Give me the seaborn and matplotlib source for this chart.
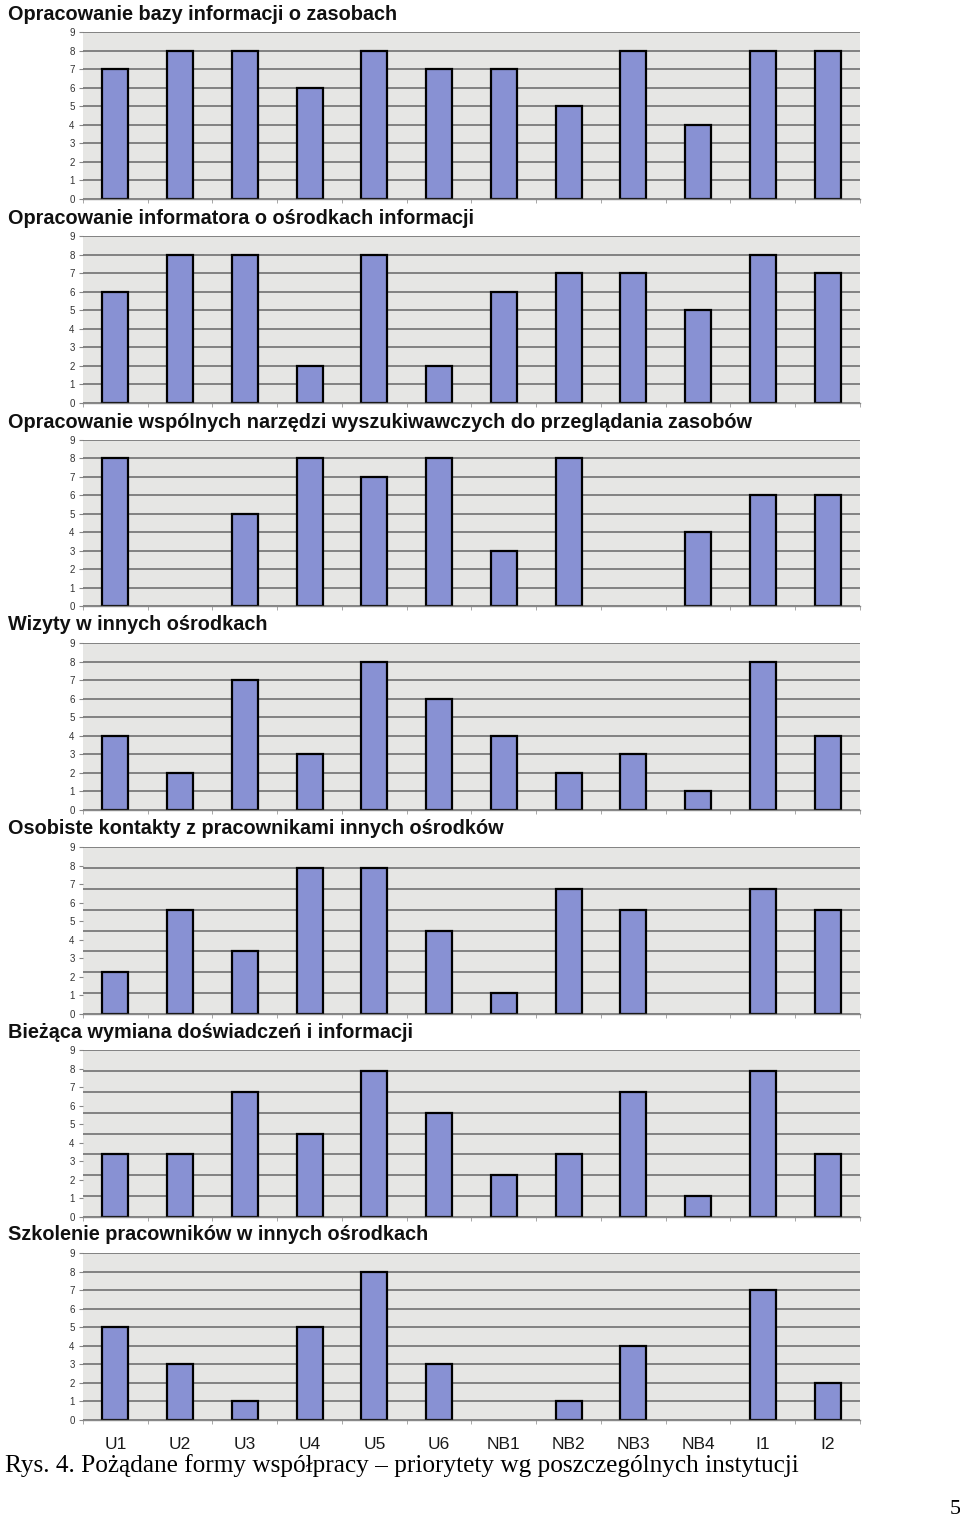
import numpy as np
import pandas as pd
import matplotlib
matplotlib.use("Agg")
import matplotlib.pyplot as plt
import seaborn as sns

# ---------------- data ----------------
categories = ["U1", "U2", "U3", "U4", "U5", "U6", "NB1", "NB2", "NB3", "NB4", "I1", "I2"]

titles = [
    "Opracowanie bazy informacji o zasobach",
    "Opracowanie informatora o ośrodkach informacji",
    "Opracowanie wspólnych narzędzi wyszukiwawczych do przeglądania zasobów",
    "Wizyty w innych ośrodkach",
    "Osobiste kontakty z pracownikami innych ośrodków",
    "Bieżąca wymiana doświadczeń i informacji",
    "Szkolenie pracowników w innych ośrodkach",
]

baza = [7, 8, 8, 6, 8, 7, 7, 5, 8, 4, 8, 8]
informator = [6, 8, 8, 2, 8, 2, 6, 7, 7, 5, 8, 7]
narzedzia = [8, 0, 5, 8, 7, 8, 3, 8, 0, 4, 6, 6]
wizyty = [4, 2, 7, 3, 8, 6, 4, 2, 3, 1, 8, 4]
kontakty = [2, 5, 3, 7, 7, 4, 1, 6, 5, 0, 6, 5]      # drawn on a 0-8 grid
wymiana = [3, 3, 6, 4, 7, 5, 2, 3, 6, 1, 7, 3]       # drawn on a 0-8 grid
szkolenie = [5, 3, 1, 5, 8, 3, 0, 1, 4, 0, 7, 2]

series = [baza, informator, narzedzia, wizyty, kontakty, wymiana, szkolenie]
grid_max = [9, 9, 9, 9, 8, 8, 9]          # number of gridline intervals per panel
ytick_labels = [str(i) for i in range(10)]

caption = "Rys. 4. Pożądane formy współpracy – priorytety wg poszczególnych instytucji"
page_no = "5"

# ---------------- style ----------------
sns.set_style("white")
plt.rcParams["font.family"] = ["Liberation Sans", "DejaVu Sans"]

W, H = 960, 1519
fig = plt.figure(figsize=(W / 100, H / 100), dpi=100)
fig.patch.set_facecolor("white")

bar_color = "#8891D3"
bg_color = "#E6E6E4"
grid_color = "#7A7A7A"

tops = [32, 236, 440, 643, 847, 1050, 1253]
bots = [199, 403, 606, 810, 1014, 1217, 1420]
left_px, right_px = 83, 860

for i, (vals, title) in enumerate(zip(series, titles)):
    t, b = tops[i], bots[i]
    ax = fig.add_axes([left_px / W, 1 - b / H, (right_px - left_px) / W, (b - t) / H])
    df = pd.DataFrame({"kat": categories, "val": vals})
    sns.barplot(data=df, x="kat", y="val", order=categories, color=bar_color,
                edgecolor="black", linewidth=1.6, width=0.4, saturation=1, ax=ax)
    for p in ax.patches:
        if p.get_height() == 0:
            p.set_visible(False)
    ax.set_facecolor(bg_color)
    gm = grid_max[i]
    ax.set_ylim(0, gm)
    ax.set_xlim(-0.5, len(categories) - 0.5)
    ax.grid(False)
    # gridlines at integer steps of the panel's grid
    ax.yaxis.remove_overlapping_locs = False
    ax.set_yticks(np.arange(gm + 1), minor=True)
    ax.grid(which="minor", axis="y", color=grid_color, linewidth=1.3)
    ax.set_axisbelow(True)
    # labels 0..9 spread over the full height
    ax.set_yticks(np.linspace(0, gm, 10))
    ax.set_yticklabels(ytick_labels)
    ax.tick_params(axis="y", which="major", labelsize=7, labelcolor="#333333",
                   length=3, color="#888888", pad=3, left=True)
    ax.tick_params(axis="y", which="minor", length=0)
    # x axis
    ax.set_xlabel("")
    ax.set_ylabel("")
    ax.set_xticks(np.arange(-0.5, len(categories) + 0.5, 1.0), minor=True)
    ax.tick_params(axis="x", which="minor", length=3, color="#999999", bottom=True)
    if i == len(series) - 1:
        ax.tick_params(axis="x", which="major", length=0, labelsize=12.5,
                       labelcolor="#1a1a1a", pad=12)
    else:
        ax.tick_params(axis="x", which="major", length=0, labelbottom=False)
    for s in ["top", "right", "left"]:
        ax.spines[s].set_visible(False)
    ax.spines["bottom"].set_color("#888888")
    ax.spines["bottom"].set_linewidth(1.0)

    fig.text(8 / W, 1 - (t - 18) / H, title, fontsize=14.3, fontweight="bold",
             color="#111111", ha="left", va="center")

fig.text(5 / W, 1 - 1466 / H, caption, family=["Liberation Serif", "DejaVu Serif"],
         fontsize=18.2, color="black", ha="left", va="center")
fig.text(955 / W, 1 - 1510 / H, page_no, family=["Liberation Serif", "DejaVu Serif"],
         fontsize=16, color="black", ha="center", va="center")

fig.savefig("out.png", dpi=100, facecolor="white")
